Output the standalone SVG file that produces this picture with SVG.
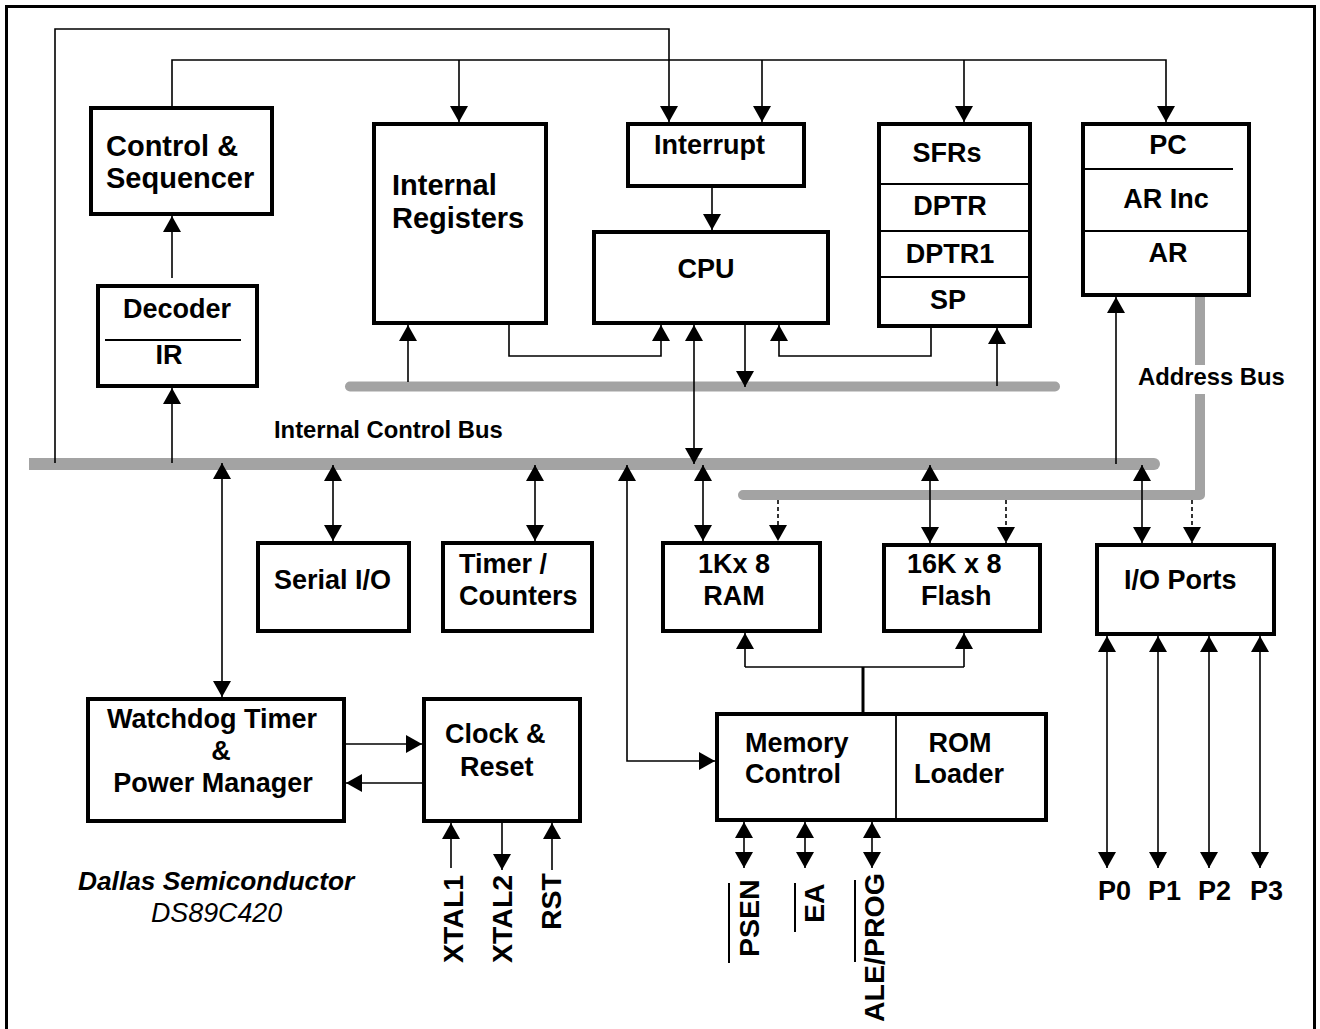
<svg xmlns="http://www.w3.org/2000/svg" width="1320" height="1029" viewBox="0 0 1320 1029">
<defs>
<marker id="ah" viewBox="0 0 16 18" refX="16" refY="9" markerWidth="16" markerHeight="18" markerUnits="userSpaceOnUse" orient="auto-start-reverse"><path d="M0,0 L16,9 L0,18 z" fill="#000"/></marker>
</defs>
<style>
.box{fill:#fff;stroke:#000;stroke-width:4}
.div{stroke:#000;stroke-width:1.8;fill:none}
.c{fill:none;stroke:#000;stroke-width:1.6}
.a{marker-end:url(#ah)}
.b{marker-start:url(#ah);marker-end:url(#ah)}
.d{stroke-dasharray:4,3}
.bus{fill:none;stroke:#a3a3a3;stroke-width:10;stroke-linecap:round;stroke-linejoin:round}
text{font-family:"Liberation Sans",Arial,sans-serif;font-weight:bold;font-size:27px;fill:#000}
.big{font-size:29px}
.lbl{font-size:23.8px}
.m{text-anchor:middle}
.v{font-size:28.5px}
.cap1{font-style:italic;font-size:26.3px}
.cap2{font-style:italic;font-weight:normal;font-size:26.8px}
</style>
<rect x="6.5" y="6.5" width="1308" height="1040" fill="#fff" stroke="#000" stroke-width="3"/>

<g id="buses">
<path d="M29,458 H1154 A6,6 0 0 1 1154,470 H29 Z" fill="#a3a3a3"/>
<path class="bus" d="M350,386.5 H1055"/>
<path class="bus" d="M1200,290 V495 H743"/>
<rect x="1190" y="365" width="20" height="29" fill="#fff"/>
<text class="lbl" x="274" y="438">Internal Control Bus</text>
<text class="lbl" x="1138" y="385">Address Bus</text>
</g>

<g id="connectors">
<path class="c a" d="M55,463 V29 H669 V122"/>
<path class="c a" d="M172,106 V60 H1166 V122"/>
<path class="c a" d="M459,60 V122"/>
<path class="c a" d="M762,60 V122"/>
<path class="c a" d="M964,60 V122"/>
<path class="c a" d="M172,278 V216"/>
<path class="c a" d="M172,463 V388"/>
<path class="c a" d="M712,188 V230"/>
<path class="c a" d="M509,325 V356 H661 V325"/>
<path class="c b" d="M694,325 V464"/>
<path class="c a" d="M745,325 V387"/>
<path class="c a" d="M931,328 V356 H779 V325"/>
<path class="c a" d="M408,382 V325"/>
<path class="c a" d="M997,386 V328"/>
<path class="c a" d="M1116,464 V297"/>
<path class="c b" d="M222,463 V697"/>
<path class="c b" d="M333,465 V541"/>
<path class="c b" d="M535,465 V541"/>
<path class="c b" d="M627,465 V761 H715"/>
<path class="c b" d="M703,465 V541"/>
<path class="c b" d="M930,465 V543"/>
<path class="c b" d="M1142,465 V543"/>
<path class="c a d" d="M778,500 V541"/>
<path class="c a d" d="M1006,500 V543"/>
<path class="c a d" d="M1192,500 V543"/>
<path d="M863,712 V667" stroke="#000" stroke-width="3" fill="none"/>
<path class="c" d="M745,667 H964"/>
<path class="c a" d="M745,667 V633"/>
<path class="c a" d="M964,667 V633"/>
<path class="c b" d="M1107,636 V868"/>
<path class="c b" d="M1158,636 V868"/>
<path class="c b" d="M1209,636 V868"/>
<path class="c b" d="M1260,636 V868"/>
<path class="c a" d="M341,744 H422"/>
<path class="c a" d="M422,783 H346"/>
<path class="c a" d="M451,868 V823"/>
<path class="c a" d="M502,823 V870"/>
<path class="c a" d="M552,870 V823"/>
<path class="c b" d="M744,822 V868"/>
<path class="c b" d="M805,822 V868"/>
<path class="c b" d="M872,822 V868"/>
</g>

<g id="control">
<rect class="box" x="91" y="108" width="181" height="106"/>
<text class="big" x="106" y="156">Control &amp;</text>
<text class="big" x="106" y="188">Sequencer</text>
</g>
<g id="decoder">
<rect class="box" x="98" y="286" width="159" height="100"/>
<line class="div" x1="105" y1="340" x2="241" y2="340"/>
<text class="m" x="177" y="318">Decoder</text>
<text class="m" x="169" y="364">IR</text>
</g>
<g id="internal-registers">
<rect class="box" x="374" y="124" width="172" height="199"/>
<text class="big" x="392" y="195">Internal</text>
<text class="big" x="392" y="228">Registers</text>
</g>
<g id="interrupt">
<rect class="box" x="628" y="124" width="176" height="62"/>
<text x="654" y="154">Interrupt</text>
</g>
<g id="cpu">
<rect class="box" x="594" y="232" width="234" height="91"/>
<text class="m" x="706" y="278">CPU</text>
</g>
<g id="sfrs">
<rect class="box" x="879" y="124" width="151" height="202"/>
<line class="div" x1="879" y1="184" x2="1030" y2="184"/>
<line class="div" x1="879" y1="231" x2="1030" y2="231"/>
<line class="div" x1="879" y1="277" x2="1030" y2="277"/>
<text class="m" x="947" y="162">SFRs</text>
<text class="m" x="950" y="215">DPTR</text>
<text class="m" x="950" y="263">DPTR1</text>
<text class="m" x="948" y="309">SP</text>
</g>
<g id="pc">
<rect class="box" x="1083" y="124" width="166" height="171"/>
<line class="div" x1="1083" y1="169" x2="1233" y2="169"/>
<line class="div" x1="1083" y1="231" x2="1249" y2="231"/>
<text class="m" x="1168" y="154">PC</text>
<text class="m" x="1166" y="208">AR Inc</text>
<text class="m" x="1168" y="262">AR</text>
</g>
<g id="serial">
<rect class="box" x="258" y="543" width="151" height="88"/>
<text x="274" y="589">Serial I/O</text>
</g>
<g id="timer">
<rect class="box" x="443" y="543" width="149" height="88"/>
<text x="459" y="573">Timer /</text>
<text x="459" y="605">Counters</text>
</g>
<g id="ram">
<rect class="box" x="663" y="543" width="157" height="88"/>
<text x="698" y="573">1Kx 8</text>
<text class="m" x="734" y="605">RAM</text>
</g>
<g id="flash">
<rect class="box" x="884" y="545" width="156" height="86"/>
<text x="907" y="573">16K x 8</text>
<text x="921" y="605">Flash</text>
</g>
<g id="io-ports">
<rect class="box" x="1097" y="545" width="177" height="89"/>
<text x="1124" y="589">I/O Ports</text>
</g>
<g id="watchdog">
<rect class="box" x="88" y="699" width="256" height="122"/>
<text class="m" x="212" y="728">Watchdog Timer</text>
<text class="m" x="221" y="760">&amp;</text>
<text class="m" x="213" y="792">Power Manager</text>
</g>
<g id="clock">
<rect class="box" x="424" y="699" width="156" height="122"/>
<text x="445" y="743">Clock &amp;</text>
<text x="460" y="776">Reset</text>
</g>
<g id="memory-control">
<rect class="box" x="717" y="714" width="329" height="106"/>
<line class="div" x1="896" y1="714" x2="896" y2="820"/>
<text x="745" y="752">Memory</text>
<text x="745" y="783">Control</text>
<text class="m" x="960" y="752">ROM</text>
<text class="m" x="959" y="783">Loader</text>
</g>

<g id="pins">
<text class="v" transform="translate(463,963) rotate(-90)">XTAL1</text>
<text class="v" transform="translate(512,963) rotate(-90)">XTAL2</text>
<text class="v" transform="translate(561,930) rotate(-90)">RST</text>
<text class="v" transform="translate(759,957) rotate(-90)">PSEN</text>
<text class="v" transform="translate(824,923) rotate(-90)">EA</text>
<text class="v" transform="translate(884,1022) rotate(-90)">ALE/PROG</text>
<line x1="729" y1="883" x2="729" y2="963" stroke="#000" stroke-width="2"/>
<line x1="795" y1="883" x2="795" y2="932" stroke="#000" stroke-width="2"/>
<line x1="855" y1="880" x2="855" y2="962" stroke="#000" stroke-width="2"/>
<text x="1098" y="900">P0</text>
<text x="1148" y="900">P1</text>
<text x="1198" y="900">P2</text>
<text x="1250" y="900">P3</text>
</g>

<g id="caption">
<text class="cap1" x="78" y="890">Dallas Semiconductor</text>
<text class="cap2" x="151" y="922">DS89C420</text>
</g>
</svg>
